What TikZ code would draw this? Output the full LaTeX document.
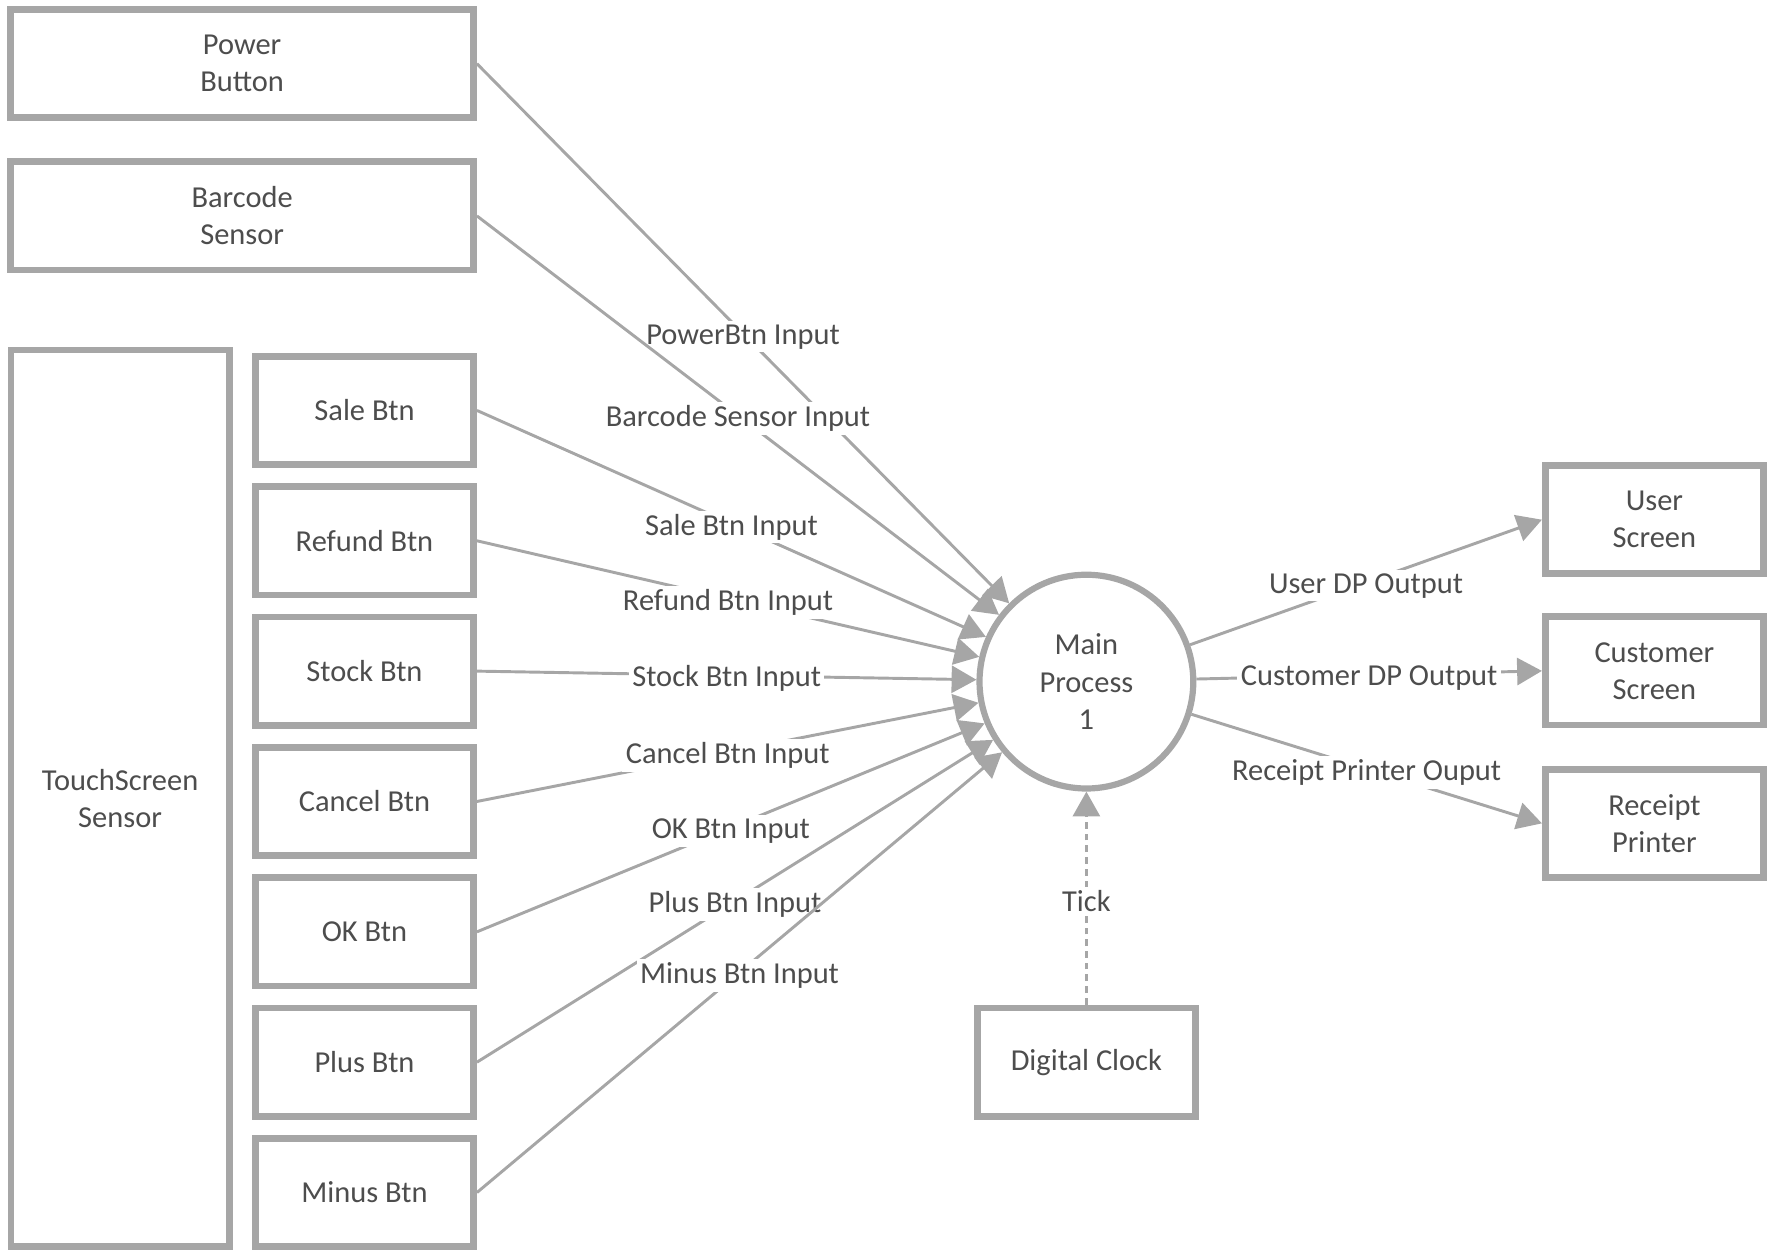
\documentclass[tikz,border=0pt]{standalone}
\usepackage{fontspec}
\setmainfont{Carlito}
\usepackage{tikz}
\usetikzlibrary{shapes,arrows.meta,positioning}
\definecolor{linegray}{HTML}{A6A6A6}
\definecolor{textgray}{HTML}{4D4D4D}

\begin{document}
\begin{tikzpicture}[x=0.5pt,y=0.5pt,yscale=-1,xscale=1,
  font=\fontsize{13.5}{16.5}\selectfont, text=textgray,
  entity/.style={draw=linegray, line width=3pt, fill=white, minimum width=96.75pt, minimum height=48pt, align=center, inner sep=0pt},
  proc/.style={circle, draw=linegray, line width=2.75pt, fill=white, minimum size=94.8pt, align=center, inner sep=0pt},
  flow/.style={draw=linegray, line width=1.3pt, -{Triangle[length=11pt,width=12pt]}},
  flowlbl/.style={fill=white, inner sep=1.5pt, yshift=-1.5pt, text=textgray}]
\useasboundingbox (0,0) rectangle (1568,1109.4);

%Flowchart: Process (inputs)
\node[entity, minimum width=205.25pt] (pwr) at (214.75,56.5) {Power\\Button};
\node[entity, minimum width=205.25pt] (bar) at (214.75,191.5) {Barcode\\Sensor};
\node[entity, minimum height=397.5pt] (touch) at (106.5,708) {TouchScreen\\Sensor};
\foreach \nm/\txt [count=\i from 0] in {sale/Sale Btn, refund/Refund Btn, stock/Stock Btn, cancel/Cancel Btn, ok/OK Btn, plus/Plus Btn, minus/Minus Btn}
  \node[entity] (\nm) at (323.25,364+115.6*\i) {\txt};

%Flowchart: Connector
\node[proc] (main) at (963.5,604.5) {Main\\Process\\1};

%Flowchart: Process (outputs)
\node[entity] (user) at (1467.25,460.9) {User\\Screen};
\node[entity] (cust) at (1467.25,595) {Customer\\Screen};
\node[entity] (rcpt) at (1467.25,730.2) {Receipt\\Printer};
\node[entity] (clock) at (963.5,942) {Digital Clock};

%Straight Lines
\draw[flow] (pwr.east) -- (main) node[midway, flowlbl] {PowerBtn Input};
\draw[flow] (bar.east) -- (main) node[midway, flowlbl] {Barcode Sensor Input};
\foreach \nm/\lbl in {sale/Sale Btn Input, refund/Refund Btn Input, stock/Stock Btn Input, cancel/Cancel Btn Input, ok/OK Btn Input, plus/Plus Btn Input, minus/Minus Btn Input}
  \draw[flow] (\nm.east) -- (main) node[midway, flowlbl] {\lbl};

\draw[flow] (main) -- (user.west) node[midway, flowlbl] {User DP Output};
\draw[flow] (main) -- (cust.west) node[midway, flowlbl] {Customer DP Output};
\draw[flow] (main) -- (rcpt.west) node[midway, flowlbl] {Receipt Printer Ouput};

%Dashed Line
\draw[flow, dash pattern=on 3pt off 2.2pt] (clock) -- (main) node[midway, flowlbl] {Tick};

\end{tikzpicture}
\end{document}
